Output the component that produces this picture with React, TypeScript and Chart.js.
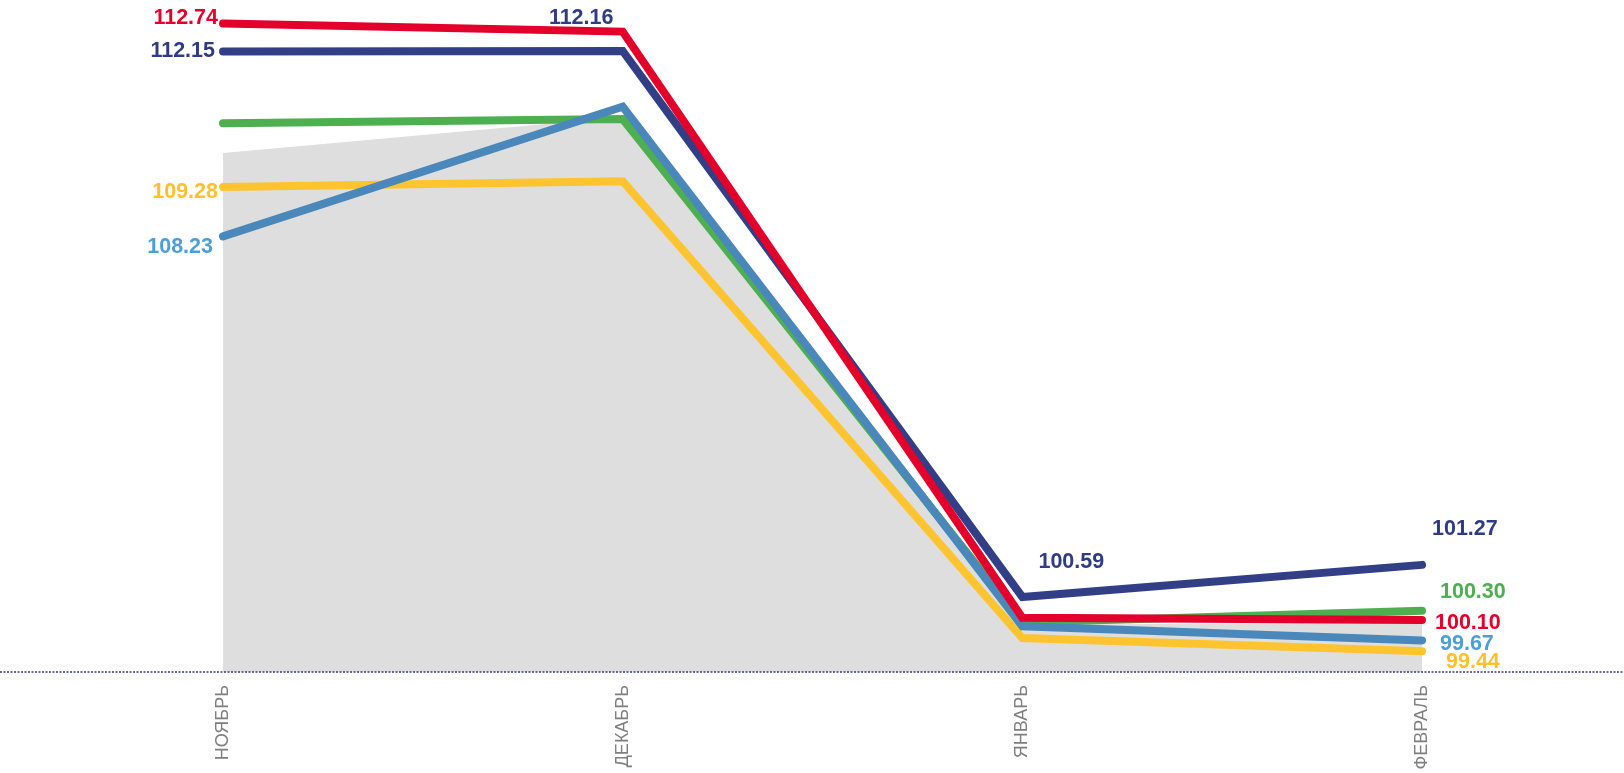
import React, { useEffect, useRef } from "react";
import { Chart, registerables } from "chart.js";

Chart.register(...registerables);

const months = ["НОЯБРЬ", "ДЕКАБРЬ", "ЯНВАРЬ", "ФЕВРАЛЬ"];

const redValues = [112.74, 112.57, 100.15, 100.1];
const navyValues = [112.15, 112.16, 100.59, 101.27];
const greenValues = [110.63, 110.72, 100.05, 100.3];
const blueValues = [108.23, 110.98, 99.97, 99.67];
const yellowValues = [109.28, 109.4, 99.72, 99.44];
const greyValues = [110.0, 110.76, 100.0, 100.05];

const COLORS = {
  red: "#e3002b",
  navy: "#323f86",
  green: "#4daf4f",
  blue: "#4a88bb",
  yellow: "#fec42f",
  grey: "#dedede",
};

const LABEL_COLORS: Record<string, string> = {
  red: "#e3002b",
  navy: "#2f3b84",
  green: "#4daf4f",
  blue: "#4d9fd8",
  yellow: "#fec12c",
};

// which points get a value label, and where it sits relative to the point
const valueLabels = [
  { s: "red", i: 0, align: "right", dx: -5, dy: -7 },
  { s: "navy", i: 0, align: "right", dx: -8, dy: -2.5 },
  { s: "yellow", i: 0, align: "right", dx: -5, dy: 3.5 },
  { s: "blue", i: 0, align: "right", dx: -10, dy: 9 },
  { s: "navy", i: 1, align: "center", dx: -41.5, dy: -35 },
  { s: "navy", i: 2, align: "center", dx: 49, dy: -37 },
  { s: "navy", i: 3, align: "left", dx: 10, dy: -37.7 },
  { s: "green", i: 3, align: "left", dx: 18, dy: -20 },
  { s: "red", i: 3, align: "left", dx: 13, dy: 1 },
  { s: "blue", i: 3, align: "left", dx: 18, dy: 1.5 },
  { s: "yellow", i: 3, align: "left", dx: 24, dy: 9 },
];

export default function App() {
  const ref = useRef<HTMLCanvasElement | null>(null);

  useEffect(() => {
    document.body.style.margin = "0";
    document.body.style.overflow = "hidden";
    const canvas = ref.current;
    if (!canvas) return;

    const lineDs = (key: string, data: number[]) => ({
      label: key,
      data,
      borderColor: (COLORS as any)[key],
      backgroundColor: (COLORS as any)[key],
      borderWidth: 8,
      borderCapStyle: "round" as const,
      borderJoinStyle: "miter" as const,
      pointRadius: 0,
      tension: 0,
      fill: false,
    });

    const seriesMap: Record<string, number> = {
      red: 0,
      navy: 1,
      blue: 2,
      green: 3,
      yellow: 4,
    };

    const labelsPlugin = {
      id: "valueLabels",
      afterDatasetsDraw(chart: any) {
        const ctx = chart.ctx;
        ctx.save();
        ctx.font = 'bold 21.5px "Liberation Sans", Arial, sans-serif';
        ctx.textBaseline = "alphabetic";
        valueLabels.forEach((l) => {
          const dsIndex = seriesMap[l.s];
          const meta = chart.getDatasetMeta(dsIndex);
          const pt = meta.data[l.i];
          const val = chart.data.datasets[dsIndex].data[l.i] as number;
          ctx.fillStyle = LABEL_COLORS[l.s];
          ctx.textAlign = l.align;
          ctx.fillText(val.toFixed(2), pt.x + l.dx, pt.y + l.dy + 7.7);
        });
        ctx.restore();
      },
      afterDraw(chart: any) {
        const ctx = chart.ctx;
        const y = chart.chartArea.bottom;
        ctx.save();
        ctx.strokeStyle = "#2e3d8a";
        ctx.lineWidth = 1.5;
        ctx.setLineDash([2, 1.5]);
        ctx.beginPath();
        ctx.moveTo(0, y);
        ctx.lineTo(chart.width, y);
        ctx.stroke();
        ctx.restore();
      },
    };

    const chart = new Chart(canvas, {
      type: "line",
      data: {
        labels: months,
        datasets: [
          lineDs("red", redValues),
          lineDs("navy", navyValues),
          lineDs("blue", blueValues),
          lineDs("green", greenValues),
          lineDs("yellow", yellowValues),
          {
            label: "grey",
            data: greyValues,
            borderWidth: 0,
            borderColor: "rgba(0,0,0,0)",
            backgroundColor: COLORS.grey,
            pointRadius: 0,
            tension: 0,
            fill: "start",
          },
        ],
      },
      options: {
        animation: false,
        responsive: true,
        maintainAspectRatio: false,
        layout: { padding: { left: 223, right: 202, top: 0, bottom: 0 } },
        plugins: {
          legend: { display: false },
          tooltip: { enabled: false },
        },
        scales: {
          y: {
            display: false,
            min: 99,
            max: 113.24,
          },
          x: {
            offset: false,
            grid: { display: false, drawTicks: false },
            border: { display: false },
            ticks: {
              color: "#7f7f7f",
              font: { family: '"Liberation Sans", Arial, sans-serif', size: 18 },
              minRotation: 90,
              maxRotation: 90,
              padding: 13,
            },
            afterFit: (scale: any) => {
              scale.height = 101;
            },
          },
        },
      },
      plugins: [labelsPlugin],
    });

    return () => chart.destroy();
  }, []);

  return (
    <div
      style={{
        position: "absolute",
        left: 0,
        top: 0,
        width: "1624px",
        height: "773px",
      }}
    >
      <canvas ref={ref} />
    </div>
  );
}
